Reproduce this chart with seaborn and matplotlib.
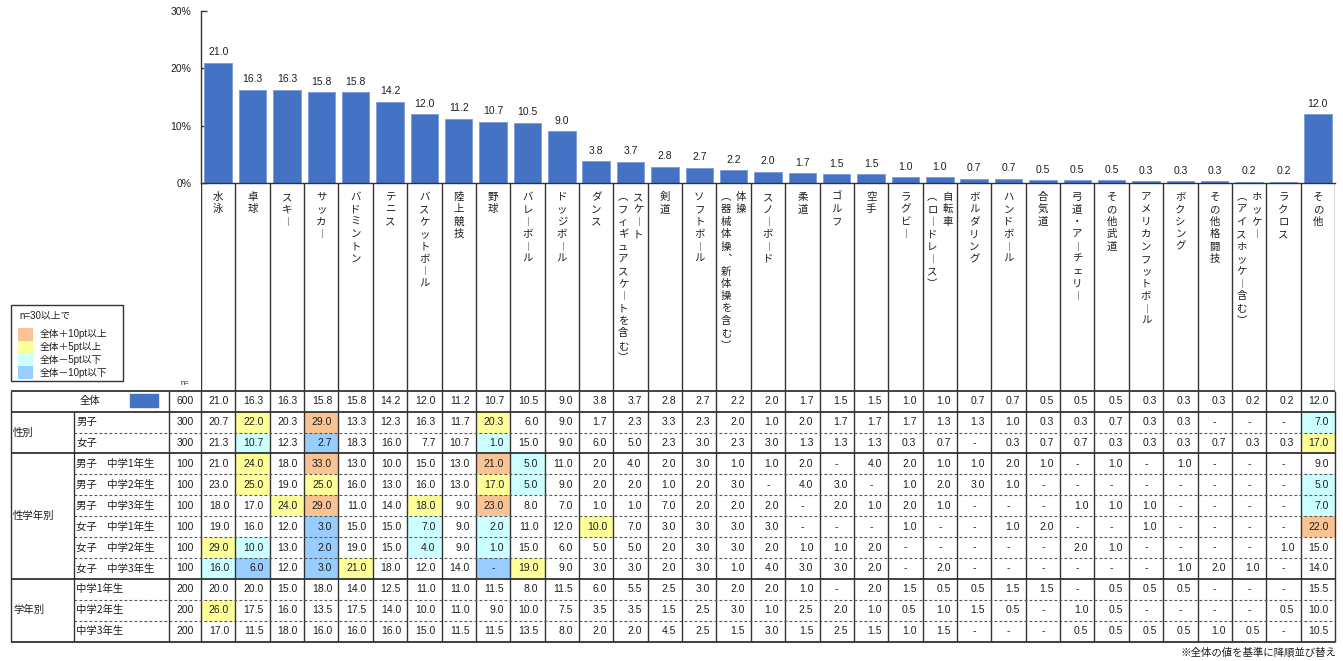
import numpy as np
import pandas as pd
import matplotlib
matplotlib.use("Agg")
import matplotlib.pyplot as plt
import seaborn as sns
from matplotlib.colors import ListedColormap
from matplotlib.patches import Rectangle

# ---------------- data ----------------
categories = [
    "水泳", "卓球", "スキー", "サッカー", "バドミントン", "テニス", "バスケットボール",
    "陸上競技", "野球", "バレーボール", "ドッジボール", "ダンス",
    "スケート（フィギュアスケートを含む）", "剣道", "ソフトボール",
    "体操（器械体操、新体操を含む）", "スノーボード", "柔道", "ゴルフ", "空手",
    "ラグビー", "自転車（ロードレース）", "ボルダリング", "ハンドボール", "合気道",
    "弓道・アーチェリー", "その他武道", "アメリカンフットボール", "ボクシング",
    "その他格闘技", "ホッケー（アイスホッケー含む）", "ラクロス", "その他",
]

overall = [21.0, 16.3, 16.3, 15.8, 15.8, 14.2, 12.0, 11.2, 10.7, 10.5, 9.0, 3.8,
           3.7, 2.8, 2.7, 2.2, 2.0, 1.7, 1.5, 1.5, 1.0, 1.0, 0.7, 0.7, 0.5, 0.5,
           0.5, 0.3, 0.3, 0.3, 0.2, 0.2, 12.0]

N = None  # "-" in the table
male = [20.7, 22.0, 20.3, 29.0, 13.3, 12.3, 16.3, 11.7, 20.3, 6.0, 9.0, 1.7, 2.3, 3.3, 2.3, 2.0,
        1.0, 2.0, 1.7, 1.7, 1.7, 1.3, 1.3, 1.0, 0.3, 0.3, 0.7, 0.3, 0.3, N, N, N, 7.0]
female = [21.3, 10.7, 12.3, 2.7, 18.3, 16.0, 7.7, 10.7, 1.0, 15.0, 9.0, 6.0, 5.0, 2.3, 3.0, 2.3,
          3.0, 1.3, 1.3, 1.3, 0.3, 0.7, N, 0.3, 0.7, 0.7, 0.3, 0.3, 0.3, 0.7, 0.3, 0.3, 17.0]
male_g1 = [21.0, 24.0, 18.0, 33.0, 13.0, 10.0, 15.0, 13.0, 21.0, 5.0, 11.0, 2.0, 4.0, 2.0, 3.0, 1.0,
           1.0, 2.0, N, 4.0, 2.0, 1.0, 1.0, 2.0, 1.0, N, 1.0, N, 1.0, N, N, N, 9.0]
male_g2 = [23.0, 25.0, 19.0, 25.0, 16.0, 13.0, 16.0, 13.0, 17.0, 5.0, 9.0, 2.0, 2.0, 1.0, 2.0, 3.0,
           N, 4.0, 3.0, N, 1.0, 2.0, 3.0, 1.0, N, N, N, N, N, N, N, N, 5.0]
male_g3 = [18.0, 17.0, 24.0, 29.0, 11.0, 14.0, 18.0, 9.0, 23.0, 8.0, 7.0, 1.0, 1.0, 7.0, 2.0, 2.0,
           2.0, N, 2.0, 1.0, 2.0, 1.0, N, N, N, 1.0, 1.0, 1.0, N, N, N, N, 7.0]
female_g1 = [19.0, 16.0, 12.0, 3.0, 15.0, 15.0, 7.0, 9.0, 2.0, 11.0, 12.0, 10.0, 7.0, 3.0, 3.0, 3.0,
             3.0, N, N, N, 1.0, N, N, 1.0, 2.0, N, N, 1.0, N, N, N, N, 22.0]
female_g2 = [29.0, 10.0, 13.0, 2.0, 19.0, 15.0, 4.0, 9.0, 1.0, 15.0, 6.0, 5.0, 5.0, 2.0, 3.0, 3.0,
             2.0, 1.0, 1.0, 2.0, N, N, N, N, N, 2.0, 1.0, N, N, N, N, 1.0, 15.0]
female_g3 = [16.0, 6.0, 12.0, 3.0, 21.0, 18.0, 12.0, 14.0, N, 19.0, 9.0, 3.0, 3.0, 2.0, 3.0, 1.0,
             4.0, 3.0, 3.0, 2.0, N, 2.0, N, N, N, N, N, N, 1.0, 2.0, 1.0, N, 14.0]
grade1 = [20.0, 20.0, 15.0, 18.0, 14.0, 12.5, 11.0, 11.0, 11.5, 8.0, 11.5, 6.0, 5.5, 2.5, 3.0, 2.0,
          2.0, 1.0, N, 2.0, 1.5, 0.5, 0.5, 1.5, 1.5, N, 0.5, 0.5, 0.5, N, N, N, 15.5]
grade2 = [26.0, 17.5, 16.0, 13.5, 17.5, 14.0, 10.0, 11.0, 9.0, 10.0, 7.5, 3.5, 3.5, 1.5, 2.5, 3.0,
          1.0, 2.5, 2.0, 1.0, 0.5, 1.0, 1.5, 0.5, N, 1.0, 0.5, N, N, N, N, 0.5, 10.0]
grade3 = [17.0, 11.5, 18.0, 16.0, 16.0, 16.0, 15.0, 11.5, 11.5, 13.5, 8.0, 2.0, 2.0, 4.5, 2.5, 1.5,
          3.0, 1.5, 2.5, 1.5, 1.0, 1.5, N, N, N, 0.5, 0.5, 0.5, 0.5, 1.0, 0.5, N, 10.5]

row_labels = ["男子", "女子", "男子　中学1年生", "男子　中学2年生", "男子　中学3年生",
              "女子　中学1年生", "女子　中学2年生", "女子　中学3年生",
              "中学1年生", "中学2年生", "中学3年生"]
group_labels = ["性別", "性学年別", "学年別"]
group_sizes = [2, 6, 3]
n_total = 600
n_values = [300, 300, 100, 100, 100, 100, 100, 100, 200, 200, 200]

legend_labels = ["全体＋10pt以上", "全体＋5pt以上", "全体－5pt以下", "全体－10pt以下"]
footnote = "※全体の値を基準に降順並び替え"

# ---------------- styling ----------------
sns.set_theme(style="white")
plt.rcParams["font.family"] = ["Liberation Sans", "Noto Sans CJK JP", "DejaVu Sans"]
JP = ["Noto Sans CJK JP", "DejaVu Sans"]
TXT = "#1e1e1e"
LINE = "#333333"
BAR = "#4472C4"
C_ORANGE, C_YELLOW, C_CYAN, C_BLUE = "#FAC394", "#FFFF99", "#CCFFFF", "#99CCFF"

W, H = 1343, 661
fig = plt.figure(figsize=(W / 100, H / 100), dpi=100)
fig.patch.set_facecolor("white")


def fx(px):
    return px / W


def fy(py):
    return 1 - py / H


X0, X1 = 201, 1335
Y_AX_TOP, Y_AX_BOT = 11, 183
Y_TAB_TOP, Y_TAB_BOT = 390.7, 641.7
ncat = len(categories)
colw = (X1 - X0) / ncat

# ---------------- bar chart ----------------
ax = fig.add_axes([fx(X0), fy(Y_AX_BOT), fx(X1) - fx(X0), fy(Y_AX_TOP) - fy(Y_AX_BOT)])
df = pd.DataFrame({"cat": categories, "val": overall})
sns.barplot(data=df, x="cat", y="val", color=BAR, saturation=1, width=0.8,
            edgecolor="#7d9bd6", linewidth=0.6, ax=ax)
ax.set_xlim(-0.5, ncat - 0.5)
ax.set_ylim(0, 30)
ax.set_yticks([0, 10, 20, 30])
ax.set_yticklabels([f"{v}%" for v in [0, 10, 20, 30]])
ax.set_xticks([])
ax.set_xlabel("")
ax.set_ylabel("")
for s in ["top", "right"]:
    ax.spines[s].set_visible(False)
for s in ["left", "bottom"]:
    ax.spines[s].set_color(LINE)
    ax.spines[s].set_linewidth(1.0)
ax.tick_params(axis="y", left=True, direction="in", length=4, width=1, color=LINE,
               labelsize=7.5, labelcolor=TXT, pad=7)
ax.bar_label(ax.containers[0], fmt="%.1f", padding=4, fontsize=7.5, color=TXT)

# ---------------- vertical category labels ----------------
lab_h = Y_TAB_TOP - Y_AX_BOT
axl = fig.add_axes([fx(X0), fy(Y_TAB_TOP), fx(X1) - fx(X0), fy(Y_AX_BOT) - fy(Y_TAB_TOP)])
axl.set_xlim(-0.5, ncat - 0.5)
axl.set_ylim(lab_h, 0)
axl.axis("off")
axl.vlines([k - 0.5 for k in range(ncat + 1)], 0, lab_h, color=LINE, lw=1.0)
vmap = {"ー": "︱", "（": "︵", "）": "︶", "、": "︑"}
step = 12.4


def draw_vertical(x, s):
    for k, ch in enumerate(s):
        axl.text(x, 14 + k * step, vmap.get(ch, ch), ha="center", va="center",
                 fontsize=7.5, color=TXT, family=JP)


for i, cat in enumerate(categories):
    if "（" in cat:
        p = cat.index("（")
        draw_vertical(i + 0.22, cat[:p])
        draw_vertical(i - 0.22, cat[p:])
    else:
        draw_vertical(i, cat)

# ---------------- table ----------------
rows = [male, female, male_g1, male_g2, male_g3, female_g1, female_g2, female_g3,
        grade1, grade2, grade3]
vals = np.array([overall] + [[np.nan if v is None else v for v in r] for r in rows], dtype=float)
ov = np.array(overall)
diff = np.nan_to_num(vals, nan=0.0) - ov
codes = np.zeros_like(vals)
codes[diff <= -5 + 1e-9] = 1
codes[diff <= -10 + 1e-9] = 2
codes[diff >= 5 - 1e-9] = 3
codes[diff >= 10 - 1e-9] = 4
codes[0, :] = 0
nrow = vals.shape[0]

axt = fig.add_axes([fx(X0), fy(Y_TAB_BOT), fx(X1) - fx(X0), fy(Y_TAB_TOP) - fy(Y_TAB_BOT)])
sns.heatmap(codes, ax=axt, cmap=ListedColormap(["white", C_CYAN, C_BLUE, C_YELLOW, C_ORANGE]),
            vmin=-0.5, vmax=4.5, cbar=False, xticklabels=False, yticklabels=False, linewidths=0)
axt.set_xlim(0, ncat)
axt.set_ylim(nrow, 0)
axt.axis("off")

for r in range(nrow):
    for c in range(ncat):
        v = vals[r, c]
        if np.isnan(v):
            axt.text(c + 0.5, r + 0.5, "-", ha="center", va="center", fontsize=7.5, color=TXT)
        else:
            axt.text(c + 0.82, r + 0.5, f"{v:.1f}", ha="right", va="center", fontsize=7.5, color=TXT)


def dx(px):
    return (px - X0) / colw


x_outer, x_grp, x_n = dx(11), dx(74), dx(169)

# n column
axt.text((x_n + 0) / 2, 0.5, f"{n_total}", ha="center", va="center", fontsize=7.5, color=TXT)
for r, n in enumerate(n_values, start=1):
    axt.text((x_n + 0) / 2, r + 0.5, f"{n}", ha="center", va="center", fontsize=7.5, color=TXT)
axt.text((x_n + 0) / 2, -0.35, "n=", ha="center", va="center", fontsize=5.5, color=TXT)

# overall row label with bar swatch
axt.text(dx(90), 0.5, "全体", ha="center", va="center", fontsize=7.5, color=TXT, family=JP,
         clip_on=False)
axt.add_patch(Rectangle((dx(130), 0.17), dx(157.7) - dx(130), 0.6, color=BAR, clip_on=False))

# row labels
for r, lab in enumerate(row_labels, start=1):
    axt.text(x_grp + 0.06, r + 0.5, lab, ha="left", va="center", fontsize=7.5, color=TXT,
             family=JP, clip_on=False)
start = 1
bounds = [0, 1]
for g, sz in zip(group_labels, group_sizes):
    axt.text(x_outer + 0.06, start + sz / 2, g, ha="left", va="center", fontsize=7.5,
             color=TXT, family=JP, clip_on=False)
    start += sz
    bounds.append(start)

# grid lines
axt.vlines(range(ncat + 1), 0, nrow, color=LINE, lw=1.0, clip_on=False)
axt.vlines([x_n, x_outer], 0, nrow, color=LINE, lw=1.0, clip_on=False)
axt.vlines([x_grp], 1, nrow, color=LINE, lw=1.0, clip_on=False)
axt.hlines(bounds, x_outer, ncat, color=LINE, lw=1.3, clip_on=False)
dashed = [y for y in range(1, nrow) if y not in bounds]
axt.hlines(dashed, x_grp, ncat, color="#555555", lw=0.8, linestyles=(0, (2.5, 2)), clip_on=False)

# ---------------- legend box & footnote ----------------
axo = fig.add_axes([0, 0, 1, 1])
axo.set_xlim(0, W)
axo.set_ylim(H, 0)
axo.axis("off")
axo.add_patch(Rectangle((11, 305), 112, 76, fill=False, ec=LINE, lw=1.0))
axo.text(19, 316, "n=30以上で", ha="left", va="center", fontsize=7, color=TXT)
for k, (col, lab) in enumerate(zip([C_ORANGE, C_YELLOW, C_CYAN, C_BLUE], legend_labels)):
    y0 = 328 + k * 12.8
    axo.add_patch(Rectangle((18, y0), 15, 12.8, color=col, lw=0))
    axo.text(40, y0 + 6.4, lab, ha="left", va="center", fontsize=7, color=TXT)
axo.text(1336, 653, footnote, ha="right", va="center", fontsize=7.5, color=TXT)

fig.savefig("out.png", dpi=100, facecolor="white")
